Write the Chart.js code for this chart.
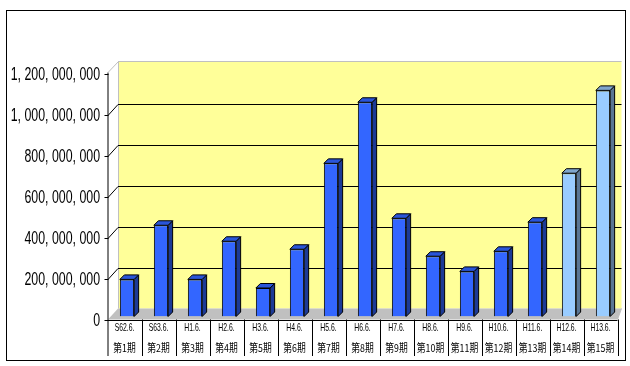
<!DOCTYPE html>
<html>
<head>
<meta charset="utf-8">
<script src="https://cdn.jsdelivr.net/npm/chart.js@4"></script>
<style>
  html, body { margin: 0; padding: 0; background: #ffffff; }
  canvas { display: block; }
</style>
</head>
<body>
<canvas id="myChart" width="630" height="366"></canvas>
<script>
const dates = ['S62.6.', 'S63.6.', 'H1.6.', 'H2.6.', 'H3.6.', 'H4.6.', 'H5.6.', 'H6.6.',
    'H7.6.', 'H8.6.', 'H9.6.', 'H10.6.', 'H11.6.', 'H12.6.', 'H13.6.']
const periods = ['第1期', '第2期', '第3期', '第4期', '第5期', '第6期', '第7期', '第8期',
    '第9期', '第10期', '第11期', '第12期', '第13期', '第14期', '第15期']
const amounts = [181000000, 445000000, 181000000, 367000000, 139000000, 328000000, 747000000,
    1045000000, 479000000, 294000000, 220000000, 318000000, 460000000, 699000000, 1103000000]
// 第14期・第15期は色が違う(見込み？)
const lightBars = [false, false, false, false, false, false, false, false,
    false, false, false, false, false, true, true]
const yTicks = [0, 200000000, 400000000, 600000000, 800000000, 1000000000, 1200000000]

const barFront = '#3366ff', barTop = '#2a55d8', barSide = '#1c3a96'
const barFrontL = '#99ccff', barTopL = '#7fa6cc', barSideL = '#5a7694'

const ctx = document.querySelector('#myChart').getContext('2d')

function fmt(v) {
    return v.toLocaleString('en-US').replace(/,/g, ', ')
}

// 3D風の壁・床・目盛りを描く
const plugin = {
    id: 'excel3d',
    beforeDraw: (chart) => {
        const {ctx} = chart
        const y = chart.scales.y
        const area = chart.chartArea
        const fl = area.left - 2, fr = area.right - 2.5   // 手前の軸
        const bl = fl + 10, br = fr + 4                     // 奥の壁
        ctx.save()
        ctx.fillStyle = '#ffffff'
        ctx.fillRect(0, 0, chart.width, chart.height)

        const wTop = y.getPixelForValue(1200000000) - 9.5
        const wBot = y.getPixelForValue(0) - 8
        ctx.fillStyle = '#ffff99'
        ctx.fillRect(bl, wTop, br - bl, wBot - wTop)

        // 床
        ctx.fillStyle = '#c0c0c0'
        ctx.beginPath()
        ctx.moveTo(fl, wBot + 11)
        ctx.lineTo(fr, wBot + 11)
        ctx.lineTo(br, wBot)
        ctx.lineTo(bl, wBot)
        ctx.closePath()
        ctx.fill()

        // 壁の縁
        ctx.strokeStyle = '#c0c0c0'
        ctx.lineWidth = 1
        ctx.beginPath()
        ctx.moveTo(fl + 0.5, wTop + 11)
        ctx.lineTo(bl + 0.5, wTop + 0.5)
        ctx.lineTo(br, wTop + 0.5)
        ctx.moveTo(bl + 0.5, wTop)
        ctx.lineTo(bl + 0.5, wBot)
        ctx.moveTo(br, wBot)
        ctx.lineTo(fr, wBot + 11)
        ctx.stroke()

        // グリッド線
        ctx.strokeStyle = '#000000'
        ctx.beginPath()
        yTicks.forEach(v => {
            if (v === 0 || v === 1200000000) return
            const yb = Math.round(y.getPixelForValue(v) - 8) + 0.5
            ctx.moveTo(bl, yb)
            ctx.lineTo(br, yb)
            ctx.moveTo(fl, yb + 11)
            ctx.lineTo(bl, yb)
        })
        ctx.stroke()
        ctx.restore()
    },
    afterDatasetsDraw: (chart) => {
        const {ctx} = chart
        const meta = chart.getDatasetMeta(0)
        const dx = 4.5, dy = 4.5
        ctx.save()
        ctx.strokeStyle = '#000000'
        ctx.lineWidth = 1
        meta.data.forEach((bar, i) => {
            const p = bar.getProps(['x', 'y', 'base', 'width'], true)
            const x0 = p.x - p.width / 2, x1 = p.x + p.width / 2
            const yt = p.y, yb = p.base
            ctx.fillStyle = lightBars[i] ? barSideL : barSide
            ctx.beginPath()
            ctx.moveTo(x1, yt)
            ctx.lineTo(x1 + dx, yt - dy)
            ctx.lineTo(x1 + dx, yb - dy)
            ctx.lineTo(x1, yb)
            ctx.closePath()
            ctx.fill()
            ctx.stroke()
            ctx.fillStyle = lightBars[i] ? barTopL : barTop
            ctx.beginPath()
            ctx.moveTo(x0, yt)
            ctx.lineTo(x0 + dx, yt - dy)
            ctx.lineTo(x1 + dx, yt - dy)
            ctx.lineTo(x1, yt)
            ctx.closePath()
            ctx.fill()
            ctx.stroke()
        })
        ctx.restore()
    },
    afterDraw: (chart) => {
        const {ctx} = chart
        const y = chart.scales.y
        const x = chart.scales.x
        const area = chart.chartArea
        const fl = area.left - 2.5, fr = area.right - 2.5
        const yFront0 = y.getPixelForValue(0) + 3
        ctx.save()
        ctx.strokeStyle = '#000000'
        ctx.lineWidth = 1

        // 縦軸
        ctx.beginPath()
        ctx.moveTo(fl + 0.5, y.getPixelForValue(1200000000) + 2)
        ctx.lineTo(fl + 0.5, 356)
        yTicks.forEach(v => {
            const yf = Math.round(y.getPixelForValue(v) + 3) + 0.5
            ctx.moveTo(fl - 3, yf)
            ctx.lineTo(fl + 1, yf)
        })
        // 表の線
        ctx.moveTo(fl, Math.round(yFront0) + 0.5)
        ctx.lineTo(fr, Math.round(yFront0) + 0.5)
        for (let i = 1; i <= dates.length; i++) {
            const xs = Math.round(x.getPixelForValue(i - 0.5) - 2.5) + 0.5
            ctx.moveTo(xs, yFront0)
            ctx.lineTo(xs, 356)
        }
        ctx.stroke()

        // 外枠
        ctx.strokeRect(6.5, 10.5, 619, 350)

        // 縦軸ラベル
        ctx.fillStyle = '#000000'
        ctx.textBaseline = 'middle'
        ctx.textAlign = 'right'
        ctx.font = '19px "Liberation Sans"'
        yTicks.forEach(v => {
            ctx.save()
            ctx.translate(100, y.getPixelForValue(v) + 4)
            ctx.scale(0.65, 1)
            ctx.fillText(fmt(v), 0, 0)
            ctx.restore()
        })

        // 横軸ラベル (2段)
        ctx.textAlign = 'center'
        dates.forEach((d, i) => {
            const cx = x.getPixelForValue(i) - 2.5
            ctx.save()
            ctx.translate(cx, 328)
            ctx.scale(0.62, 1)
            ctx.font = '11px "Liberation Sans"'
            ctx.fillText(d, 0, 0)
            ctx.restore()
            ctx.save()
            ctx.translate(cx, 348)
            ctx.scale(0.8, 1)
            ctx.font = '11px "Noto Sans CJK JP"'
            ctx.fillText(periods[i], 0, 0)
            ctx.restore()
        })
        ctx.restore()
    }
}

const data = {
    labels: dates,
    datasets: [{
        data: amounts,
        backgroundColor: lightBars.map(l => l ? barFrontL : barFront),
        borderColor: '#000000',
        borderWidth: 1,
        categoryPercentage: 1,
        barPercentage: 0.42,
    }]
}

const config = {
    type: 'bar',
    data: data,
    plugins: [plugin],
    options: {
        responsive: false,
        animation: false,
        layout: {
            padding: {left: 110, right: 10, top: 70.5, bottom: 49.5}
        },
        scales: {
            x: {display: false},
            y: {display: false, min: 0, max: 1200000000}
        },
        plugins: {
            legend: {display: false},
            tooltip: {enabled: false}
        }
    }
}

const myChart = new Chart(ctx, config)
</script>
</body>
</html>
